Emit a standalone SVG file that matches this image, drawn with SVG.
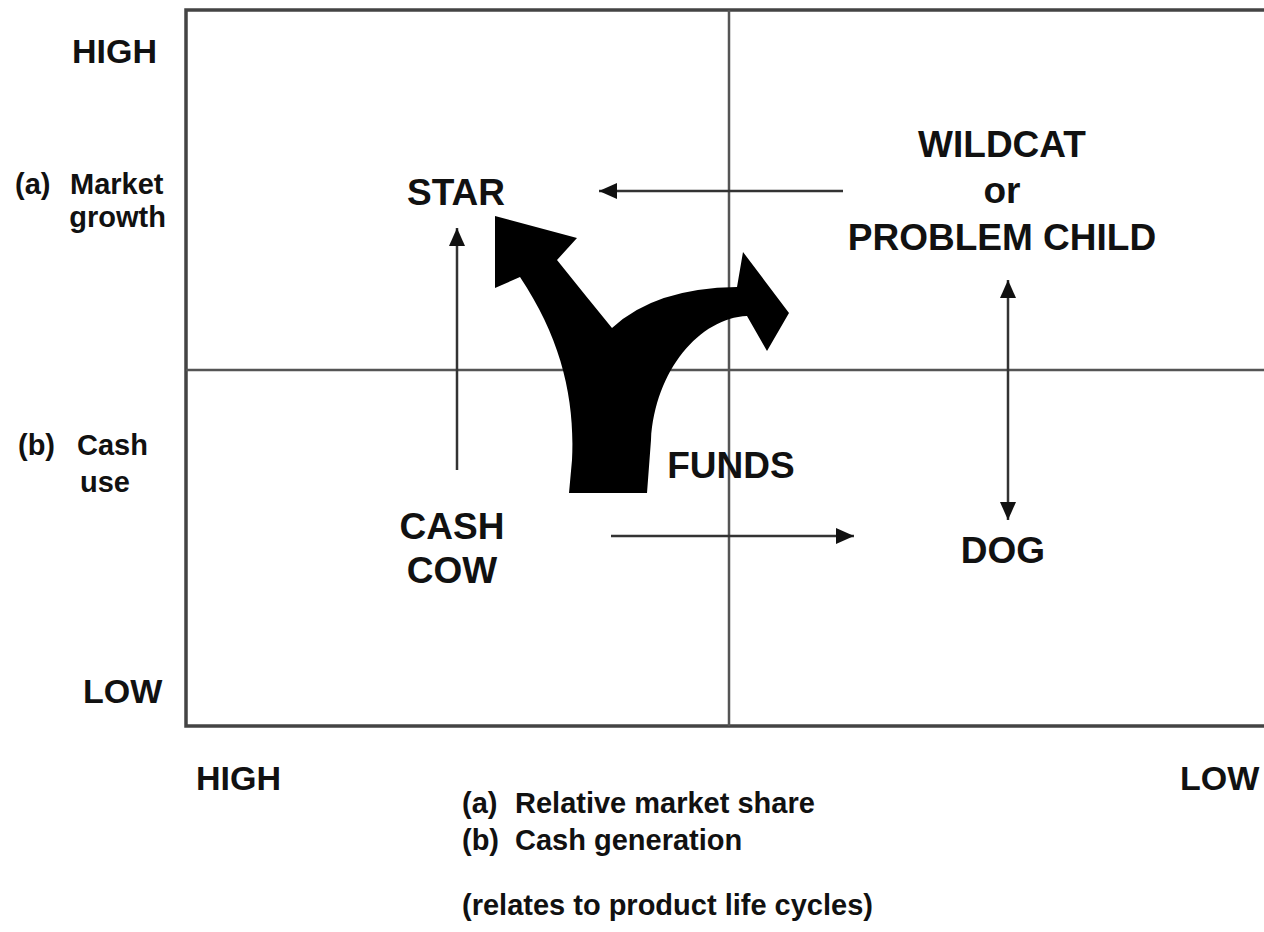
<svg xmlns="http://www.w3.org/2000/svg" width="1264" height="932" viewBox="0 0 1264 932">
<style>
.big{font-family:"Liberation Sans",Arial,sans-serif;font-weight:bold;font-size:37px;fill:#111;text-anchor:middle}
.axis{font-family:"Liberation Sans",Arial,sans-serif;font-weight:bold;font-size:34px;fill:#111}
.small{font-family:"Liberation Sans",Arial,sans-serif;font-weight:bold;font-size:29px;fill:#111}
.grid{stroke:#555;stroke-width:2.5;fill:none}
.conn{stroke:#333;stroke-width:2.5;fill:none}
</style>
<defs>
<marker id="ah" markerUnits="userSpaceOnUse" markerWidth="20" markerHeight="20" viewBox="0 0 20 20" refX="18" refY="10" orient="auto-start-reverse">
<path d="M0,2 L18,10 L0,18 Z" fill="#111"/>
</marker>
</defs>
<rect width="1264" height="932" fill="#fff"/>
<g id="frame">
<path d="M1270,10 L186,10 L186,726 L1270,726" stroke="#444" stroke-width="3.5" fill="none"/>
<line class="grid" x1="729" y1="10" x2="729" y2="726"/>
<line class="grid" x1="186" y1="370" x2="1270" y2="370"/>
</g>
<g id="connectors">
<line class="conn" x1="843" y1="191" x2="599" y2="191" marker-end="url(#ah)"/>
<line class="conn" x1="457" y1="470" x2="457" y2="228" marker-end="url(#ah)"/>
<line class="conn" x1="611" y1="536" x2="854" y2="536" marker-end="url(#ah)"/>
<line class="conn" x1="1008" y1="280" x2="1008" y2="520" marker-start="url(#ah)" marker-end="url(#ah)"/>
<path id="funds-arrow" d="M495,216 L577,238 L557,260 Q585,295 612,328 Q655,288 737,287 L743,252 L789,313 L767,351 L747,316 C700,318 655,370 651,440 L647,493 L569,493 L572,460 C575,400 562,340 520,277 L495,288 Z" fill="#000"/>
</g>
<g id="star"><text class="big" x="456" y="205">STAR</text></g>
<g id="wildcat">
<text class="big" x="1002" y="157">WILDCAT</text>
<text class="big" x="1002" y="203">or</text>
<text class="big" x="1002" y="250">PROBLEM CHILD</text>
</g>
<g id="cashcow">
<text class="big" x="452" y="539">CASH</text>
<text class="big" x="452" y="583">COW</text>
</g>
<g id="dog"><text class="big" x="1003" y="563">DOG</text></g>
<g id="funds"><text class="big" x="731" y="478">FUNDS</text></g>
<g id="y-axis">
<text class="axis" x="72" y="63">HIGH</text>
<text class="small" y="194"><tspan x="15">(a)</tspan><tspan x="70">Market</tspan></text>
<text class="small" x="166" y="227" text-anchor="end">growth</text>
<text class="small" y="455"><tspan x="18">(b)</tspan><tspan x="77">Cash</tspan></text>
<text class="small" x="80" y="492">use</text>
<text class="axis" x="83" y="703">LOW</text>
</g>
<g id="x-axis">
<text class="axis" x="196" y="790">HIGH</text>
<text class="axis" x="1180" y="790">LOW</text>
<text class="small" y="813"><tspan x="462">(a)</tspan><tspan x="515">Relative market share</tspan></text>
<text class="small" y="850"><tspan x="462">(b)</tspan><tspan x="515">Cash generation</tspan></text>
<text class="small" x="462" y="915">(relates to product life cycles)</text>
</g>
</svg>
